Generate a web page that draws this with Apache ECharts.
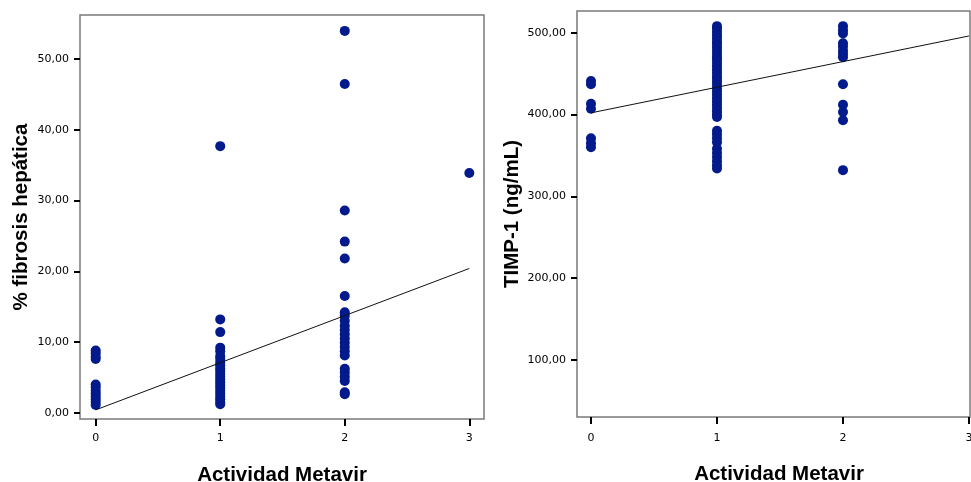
<!DOCTYPE html>
<html>
<head>
<meta charset="utf-8">
<script src="https://cdn.jsdelivr.net/npm/echarts@6/dist/echarts.min.js"></script>
<style>
html,body{margin:0;padding:0;background:#fff;}
#chart{width:971px;height:482px;}
</style>
</head>
<body>
<div id="chart"></div>
<script>
// ---- data ----
const metavirTicks = [0, 1, 2, 3];
const fibrosisTicks = [0, 10, 20, 30, 40, 50];
const timpTicks = [100, 200, 300, 400, 500];

const fibrosisAt0 = [8.8, 8.4, 7.9, 7.6, 4.0, 3.6, 3.1, 2.7, 2.3, 1.9, 1.5, 1.1];
const fibrosisAt1 = [37.7, 13.2, 11.4, 9.2, 8.7, 8.0, 7.6, 7.1, 6.7, 6.3, 5.9, 5.5, 5.1, 4.7, 4.3, 3.9, 3.5, 3.1, 2.7, 2.3, 1.9, 1.5, 1.2];
const fibrosisAt2 = [54.0, 46.5, 28.6, 24.2, 21.8, 16.5, 14.2, 13.7, 13.0, 12.3, 11.7, 11.1, 10.5, 9.9, 9.3, 8.7, 8.1, 6.2, 5.7, 5.1, 4.5, 2.9, 2.6];
const fibrosisAt3 = [33.9];

const timpAt0 = [441, 437, 413, 407, 371, 365, 360];
const timpAt1 = [508, 505, 501, 497, 493, 489, 486, 482, 478, 474, 470, 467, 463, 459, 455, 451, 447, 444, 440, 436, 432, 428, 424, 420, 416, 412, 408, 404, 400, 397, 380, 376, 371, 366, 358, 353, 348, 343, 338, 334];
const timpAt2 = [508, 503, 499, 487, 483, 478, 474, 470, 437, 412, 403, 393, 332];
const timpAt3 = [];

const fitX = [0, 3];
const fibrosisFit = [0.4, 20.4];
const timpFit = [402, 496];

// ---- build ----
function pts(level, arr) { return arr.map(v => [level, v]); }
const fibrosisPoints = [].concat(pts(0, fibrosisAt0), pts(1, fibrosisAt1), pts(2, fibrosisAt2), pts(3, fibrosisAt3));
const timpPoints = [].concat(pts(0, timpAt0), pts(1, timpAt1), pts(2, timpAt2), pts(3, timpAt3));
const fibrosisLine = fitX.map((x, i) => [x, fibrosisFit[i]]);
const timpLine = fitX.map((x, i) => [x, timpFit[i]]);

const navy = '#031a8c';
const labelFont = { fontFamily: 'DejaVu Sans', fontSize: 11, color: '#000' };
const titleFont = { fontFamily: 'Liberation Sans', fontSize: 20.5, fontWeight: 'bold', color: '#000' };
const fmt = v => v.toFixed(2).replace('.', ',');

function xAxis(gridIndex, min, max, pad, gap, margin) {
  return {
    type: 'value', gridIndex, min, max,
    name: 'Actividad Metavir', nameLocation: 'middle', nameGap: gap,
    nameTextStyle: Object.assign({ padding: pad }, titleFont),
    axisLine: { show: false, onZero: false },
    splitLine: { show: false },
    axisTick: { show: true, length: 7, customValues: metavirTicks, lineStyle: { color: '#000', width: 2 } },
    axisLabel: { show: true, margin: margin, customValues: metavirTicks, formatter: v => String(v), ...labelFont }
  };
}
function yAxis(gridIndex, min, max, ticks, name, gap) {
  return {
    type: 'value', gridIndex, min, max,
    name, nameLocation: 'middle', nameGap: gap, nameRotate: 90,
    nameTextStyle: titleFont,
    axisLine: { show: false, onZero: false },
    splitLine: { show: false },
    axisTick: { show: true, length: 6, customValues: ticks, lineStyle: { color: '#000', width: 2 } },
    axisLabel: { show: true, margin: 11, customValues: ticks, formatter: fmt, ...labelFont }
  };
}

const chart = echarts.init(document.getElementById('chart'), null, { renderer: 'canvas' });
chart.setOption({
  animation: false,
  backgroundColor: '#fff',
  grid: [
    { left: 80, top: 15, width: 404, height: 404, containLabel: false, outerBoundsMode: 'none', show: true, borderColor: '#7a7a7a', borderWidth: 1.5, backgroundColor: 'transparent' },
    { left: 577, top: 11, width: 393, height: 406, containLabel: false, outerBoundsMode: 'none', show: true, borderColor: '#7a7a7a', borderWidth: 1.5, backgroundColor: 'transparent' }
  ],
  xAxis: [
    xAxis(0, -0.126, 3.118, [0, 0, 0, 0], 46, 14),
    xAxis(1, -0.111, 3.008, [0, 0, 0, 11], 47, 16)
  ],
  yAxis: [
    yAxis(0, -0.89, 56.25, fibrosisTicks, '% fibrosis hepática', 48),
    yAxis(1, 30.3, 526.5, timpTicks, 'TIMP-1 (ng/mL)', 54)
  ],
  series: [
    { type: 'scatter', xAxisIndex: 0, yAxisIndex: 0, data: fibrosisPoints, symbolSize: 10, itemStyle: { color: navy, opacity: 1 } },
    { type: 'line', xAxisIndex: 0, yAxisIndex: 0, data: fibrosisLine, showSymbol: false, symbol: 'none', lineStyle: { color: '#111', width: 1 }, z: 5 },
    { type: 'scatter', xAxisIndex: 1, yAxisIndex: 1, data: timpPoints, symbolSize: 10, itemStyle: { color: navy, opacity: 1 } },
    { type: 'line', xAxisIndex: 1, yAxisIndex: 1, data: timpLine, showSymbol: false, symbol: 'none', lineStyle: { color: '#111', width: 1 }, z: 5 }
  ]
});
</script>
</body>
</html>
